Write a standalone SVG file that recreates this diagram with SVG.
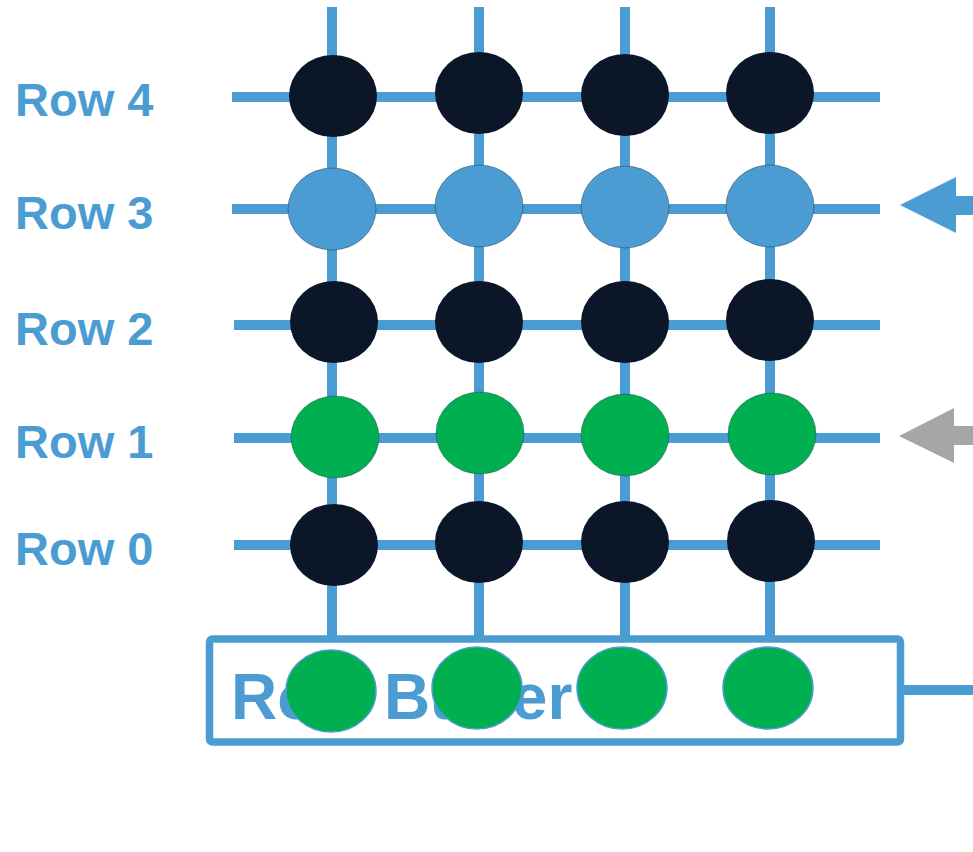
<svg xmlns="http://www.w3.org/2000/svg" width="973" height="852" viewBox="0 0 973 852">
  <style>
    .wire { stroke: #4B9CD3; stroke-width: 10; fill: none; }
    .label { font-family: "Liberation Sans", Arial, sans-serif; font-weight: bold; fill: #4B9CD3; }
    .idle { fill: #0B1628; }
    .active { fill: #4B9CD3; stroke: #1A2A3A; stroke-width: 0.6; stroke-opacity: 0.7; }
    .open { fill: #00AF50; stroke: #1A2A3A; stroke-width: 0.6; stroke-opacity: 0.6; }
    .buf { fill: #00AF50; stroke: #4B9CD3; stroke-width: 1.5; }
  </style>
  <rect width="973" height="852" fill="#ffffff"/>

  <!-- grid wires -->
  <g id="connectors">
    <line class="wire" x1="332" y1="7" x2="332" y2="637"/>
    <line class="wire" x1="479" y1="7" x2="479" y2="637"/>
    <line class="wire" x1="625" y1="7" x2="625" y2="637"/>
    <line class="wire" x1="770" y1="7" x2="770" y2="637"/>
    <line class="wire" x1="232" y1="97" x2="880" y2="97"/>
    <line class="wire" x1="232" y1="209" x2="880" y2="209"/>
    <line class="wire" x1="234" y1="325" x2="880" y2="325"/>
    <line class="wire" x1="234" y1="438" x2="880" y2="438"/>
    <line class="wire" x1="234" y1="545" x2="880" y2="545"/>
    <line class="wire" x1="903" y1="690" x2="973" y2="690"/>
    <!-- row select arrows -->
    <polygon fill="#4B9CD3" points="900,205 956,177 956,196 973,196 973,215 956,215 956,233"/>
    <polygon fill="#A6A6A6" points="899,436 954,408 954,426 973,426 973,445 954,445 954,463"/>
  </g>

  <!-- row labels -->
  <g id="labels">
    <text class="label" x="15" y="116" font-size="47">Row 4</text>
    <text class="label" x="15" y="229" font-size="47">Row 3</text>
    <text class="label" x="15" y="345" font-size="47">Row 2</text>
    <text class="label" x="15" y="458" font-size="47">Row 1</text>
    <text class="label" x="15" y="565" font-size="47">Row 0</text>
  </g>

  <!-- row buffer -->
  <g id="row-buffer">
    <rect x="209.5" y="639" width="691" height="103" rx="3" fill="none" stroke="#4B9CD3" stroke-width="7.5"/>
    <text class="label" x="231" y="719" font-size="64">Row Buffer</text>
    <ellipse class="buf" cx="331" cy="691" rx="45" ry="41"/>
    <ellipse class="buf" cx="477" cy="688" rx="45" ry="41"/>
    <ellipse class="buf" cx="622" cy="688" rx="45" ry="41"/>
    <ellipse class="buf" cx="768" cy="688" rx="45" ry="41"/>
  </g>

  <!-- cells -->
  <g id="row-4">
    <ellipse class="idle" cx="333" cy="96" rx="44" ry="41"/>
    <ellipse class="idle" cx="479" cy="93" rx="44" ry="41"/>
    <ellipse class="idle" cx="625" cy="95" rx="44" ry="41"/>
    <ellipse class="idle" cx="770" cy="93" rx="44" ry="41"/>
  </g>
  <g id="row-3">
    <ellipse class="active" cx="332" cy="209" rx="44" ry="41"/>
    <ellipse class="active" cx="479" cy="206" rx="44" ry="41"/>
    <ellipse class="active" cx="625" cy="207" rx="44" ry="41"/>
    <ellipse class="active" cx="770" cy="206" rx="44" ry="41"/>
  </g>
  <g id="row-2">
    <ellipse class="idle" cx="334" cy="322" rx="44" ry="41"/>
    <ellipse class="idle" cx="479" cy="322" rx="44" ry="41"/>
    <ellipse class="idle" cx="625" cy="322" rx="44" ry="41"/>
    <ellipse class="idle" cx="770" cy="320" rx="44" ry="41"/>
  </g>
  <g id="row-1">
    <ellipse class="open" cx="335" cy="437" rx="44" ry="41"/>
    <ellipse class="open" cx="480" cy="433" rx="44" ry="41"/>
    <ellipse class="open" cx="625" cy="435" rx="44" ry="41"/>
    <ellipse class="open" cx="772" cy="434" rx="44" ry="41"/>
  </g>
  <g id="row-0">
    <ellipse class="idle" cx="334" cy="545" rx="44" ry="41"/>
    <ellipse class="idle" cx="479" cy="542" rx="44" ry="41"/>
    <ellipse class="idle" cx="625" cy="542" rx="44" ry="41"/>
    <ellipse class="idle" cx="771" cy="541" rx="44" ry="41"/>
  </g>
</svg>
